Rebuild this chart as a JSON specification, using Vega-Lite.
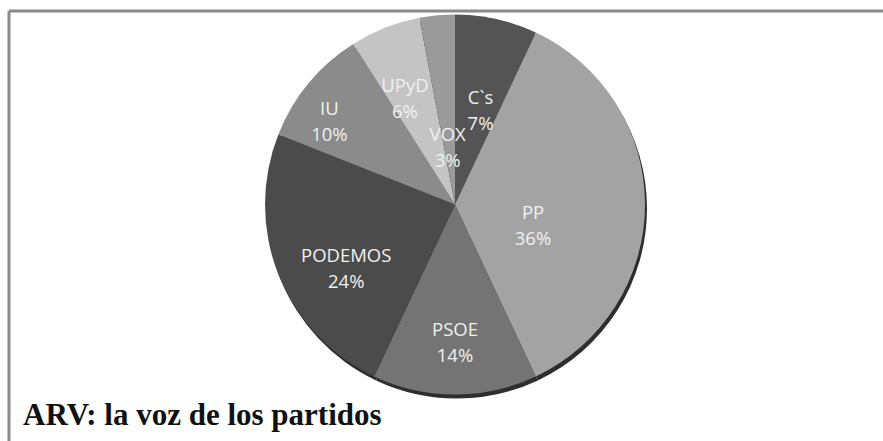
{
  "$schema": "https://vega.github.io/schema/vega-lite/v6.json",
  "width": 883,
  "height": 441,
  "autosize": {"type": "fit", "contains": "padding"},
  "padding": {"left": 9, "top": 11, "right": 0, "bottom": 0},
  "background": "white",
  "view": {"stroke": "#8a8a8a", "strokeWidth": 3, "strokeDash": [874, 1304, 430, 0]},
  "config": {
    "view": {"stroke": "#8a8a8a", "strokeWidth": 3, "strokeDash": [874, 1304, 430, 0]},
    "text": {"font": "Open Sans", "fontSize": 18.5, "x": {"expr": "width/2+9"}, "y": {"expr": "height*0.45+21"}}
  },
  "title": {
    "text": "ARV: la voz de los partidos",
    "orient": "bottom",
    "anchor": "start",
    "font": "Liberation Serif",
    "fontSize": 31,
    "fontWeight": "bold",
    "color": "#111111",
    "baseline": "alphabetic",
    "offset": -16,
    "dx": 14
  },
  "data": {
    "values": [
      {"party": "C`s", "share": 0.07, "order": 1},
      {"party": "PP", "share": 0.36, "order": 2},
      {"party": "PSOE", "share": 0.14, "order": 3},
      {"party": "PODEMOS", "share": 0.24, "order": 4},
      {"party": "IU", "share": 0.10, "order": 5},
      {"party": "UPyD", "share": 0.06, "order": 6},
      {"party": "VOX", "share": 0.03, "order": 7}
    ]
  },
  "encoding": {
    "theta": {"field": "share", "type": "quantitative", "stack": true},
    "order": {"field": "order", "type": "quantitative"},
    "color": {
      "field": "party",
      "type": "nominal",
      "scale": {
        "domain": ["C`s", "PP", "PSOE", "PODEMOS", "IU", "UPyD", "VOX"],
        "range": ["#545454", "#a3a3a3", "#747474", "#4b4b4b", "#8b8b8b", "#c4c4c4", "#9a9a9a"]
      },
      "legend": null
    }
  },
  "layer": [
    {
      "mark": {"type": "arc", "outerRadius": 190, "x": {"expr": "width/2+11"}, "y": {"expr": "height*0.45+4"}},
      "encoding": {"color": {"value": "#2e2e2e"}}
    },
    {
      "mark": {"type": "arc", "outerRadius": 190, "x": {"expr": "width/2+9"}, "y": {"expr": "height*0.45"}}
    },
    {
      "mark": {"type": "text", "radius": 78, "dy": -13, "x": {"expr": "width/2+9"}, "y": {"expr": "height*0.45+21"}},
      "encoding": {
        "text": {"condition": {"test": "indexof(['PP','VOX'], datum.party) >= 0", "field": "party", "type": "nominal"}, "value": ""},
        "color": {"value": "#f0f0f0"}
      }
    },
    {
      "mark": {"type": "text", "radius": 78, "dy": 13, "x": {"expr": "width/2+9"}, "y": {"expr": "height*0.45+21"}},
      "encoding": {
        "text": {"condition": {"test": "indexof(['PP','VOX'], datum.party) >= 0", "field": "share", "type": "quantitative", "format": ".0%"}, "value": ""},
        "color": {"value": "#f0f0f0"}
      }
    },
    {
      "mark": {"type": "text", "radius": 117, "dy": -13, "x": {"expr": "width/2+9"}, "y": {"expr": "height*0.45+21"}},
      "encoding": {
        "text": {"condition": {"test": "indexof(['C`s','PSOE','PODEMOS'], datum.party) >= 0", "field": "party", "type": "nominal"}, "value": ""},
        "color": {"value": "#f0f0f0"}
      }
    },
    {
      "mark": {"type": "text", "radius": 117, "dy": 13, "x": {"expr": "width/2+9"}, "y": {"expr": "height*0.45+21"}},
      "encoding": {
        "text": {"condition": {"test": "indexof(['C`s','PSOE','PODEMOS'], datum.party) >= 0", "field": "share", "type": "quantitative", "format": ".0%"}, "value": ""},
        "color": {"value": "#f0f0f0"}
      }
    },
    {
      "mark": {"type": "text", "radius": 136, "dy": -13, "x": {"expr": "width/2+9"}, "y": {"expr": "height*0.45+21"}},
      "encoding": {
        "text": {"condition": {"test": "datum.party === 'UPyD'", "field": "party", "type": "nominal"}, "value": ""},
        "color": {"value": "#f0f0f0"}
      }
    },
    {
      "mark": {"type": "text", "radius": 136, "dy": 13, "x": {"expr": "width/2+9"}, "y": {"expr": "height*0.45+21"}},
      "encoding": {
        "text": {"condition": {"test": "datum.party === 'UPyD'", "field": "share", "type": "quantitative", "format": ".0%"}, "value": ""},
        "color": {"value": "#f0f0f0"}
      }
    },
    {
      "mark": {"type": "text", "radius": 163, "dy": -13, "x": {"expr": "width/2+9"}, "y": {"expr": "height*0.45+21"}},
      "encoding": {
        "text": {"condition": {"test": "datum.party === 'IU'", "field": "party", "type": "nominal"}, "value": ""},
        "color": {"value": "#f0f0f0"}
      }
    },
    {
      "mark": {"type": "text", "radius": 163, "dy": 13, "x": {"expr": "width/2+9"}, "y": {"expr": "height*0.45+21"}},
      "encoding": {
        "text": {"condition": {"test": "datum.party === 'IU'", "field": "share", "type": "quantitative", "format": ".0%"}, "value": ""},
        "color": {"value": "#f0f0f0"}
      }
    }
  ]
}
